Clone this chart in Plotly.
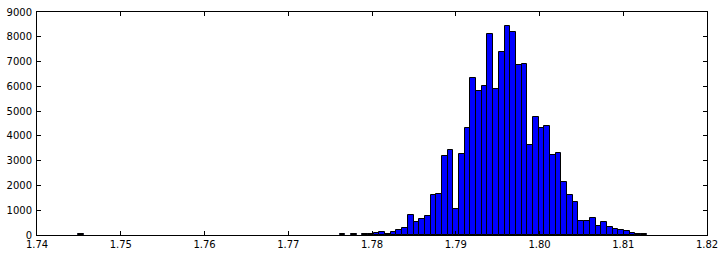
import plotly.graph_objects as go

# Histogram data: 100 equal-width bins between the sample min and max
bin_min = 1.7449
bin_max = 1.8128
n_bins = 100
counts = [0] * n_bins
counts_nonzero = {
    0: 30,
    46: 40, 48: 40, 50: 40, 51: 40, 52: 80, 53: 120, 54: 40, 55: 120,
    56: 215, 57: 280, 58: 807, 59: 537, 60: 645, 61: 767, 62: 1614,
    63: 1655, 64: 3200, 65: 3430, 66: 1049, 67: 3269, 68: 4330,
    69: 6348, 70: 5823, 71: 6025, 72: 8124, 73: 5904, 74: 7397,
    75: 8447, 76: 8205, 77: 6873, 78: 6913, 79: 3616, 80: 4774,
    81: 4302, 82: 4383, 83: 3241, 84: 3321, 85: 2151, 86: 1626,
    87: 1344, 88: 577, 89: 577, 90: 698, 91: 375, 92: 537, 93: 335,
    94: 226, 95: 186, 96: 145, 97: 93, 98: 45, 99: 35,
}
for k, v in counts_nonzero.items():
    counts[k] = v

x_ticks = [1.74, 1.75, 1.76, 1.77, 1.78, 1.79, 1.80, 1.81, 1.82]
x_tick_labels = ["1.74", "1.75", "1.76", "1.77", "1.78", "1.79", "1.80", "1.81", "1.82"]
y_ticks = [0, 1000, 2000, 3000, 4000, 5000, 6000, 7000, 8000, 9000]

bw = (bin_max - bin_min) / n_bins
centers = [bin_min + (i + 0.5) * bw for i in range(n_bins)]
heights = [c if c > 0 else None for c in counts]

fig = go.Figure(go.Bar(
    x=centers, y=heights, width=[bw] * n_bins,
    marker=dict(color="#0000ff", line=dict(color="black", width=1)),
))

axis_common = dict(
    showgrid=False, zeroline=False, showline=True, linecolor="black", linewidth=1,
    mirror="ticks", ticks="inside", ticklen=4, tickcolor="black", tickwidth=1,
    tickfont=dict(family="DejaVu Sans", size=10, color="black"),
    automargin=False,
)
fig.update_layout(
    width=724, height=256,
    margin=dict(l=37, r=17, t=12, b=21),
    paper_bgcolor="white", plot_bgcolor="white",
    bargap=0, showlegend=False,
    xaxis=dict(range=[1.74, 1.82], tickvals=x_ticks, ticktext=x_tick_labels,
               ticklabelstandoff=0, **axis_common),
    yaxis=dict(range=[0, 9000], tickvals=y_ticks, ticklabelstandoff=2, **axis_common),
)
fig.write_html("out.html")
